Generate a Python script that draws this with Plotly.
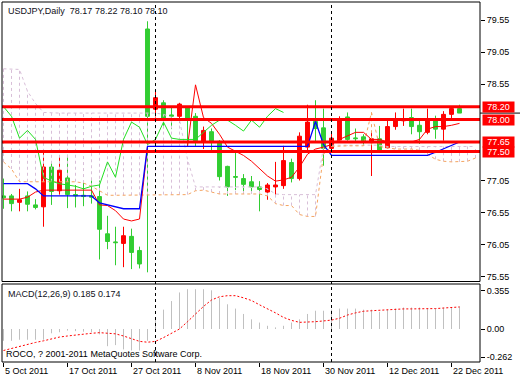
import plotly.graph_objects as go

# ---------------- data ----------------
tick_idx = [0, 8, 16, 24, 32, 40, 48, 56]
tick_labels = ["5 Oct 2011", "17 Oct 2011", "27 Oct 2011", "8 Nov 2011",
               "18 Nov 2011", "30 Nov 2011", "12 Dec 2011", "22 Dec 2011"]
separator_idx = [19, 41]  # 1 Nov, 1 Dec

opens = [76.78, 76.69, 76.75, 76.68, 76.63, 77.26, 76.88, 77.21, 76.83, 76.81,
         76.80, 76.79, 76.29, 76.10, 76.08, 76.19, 75.93, 75.75, 78.05, 78.34,
         78.02, 78.05, 78.24, 78.02, 77.67, 77.83, 77.64, 77.11, 76.95, 77.10,
         76.99, 76.95, 76.91, 76.98, 76.98, 77.36, 77.08, 77.74, 77.96, 77.86,
         77.55, 77.71, 77.99, 77.69, 77.70, 77.65, 77.70, 77.51, 77.89, 77.99,
         78.01, 77.89, 77.81, 78.01, 77.85, 78.08, 78.17, 78.10]
highs = [77.08, 76.84, 76.92, 76.88, 76.76, 77.51, 77.32, 77.44, 77.45, 76.98,
         77.02, 77.05, 77.05, 76.50, 76.33, 76.33, 76.30, 76.02, 79.53, 78.47,
         78.30, 78.18, 78.26, 78.21, 78.10, 77.89, 77.86, 77.68, 77.28, 77.51,
         77.15, 77.12, 77.04, 77.01, 77.34, 77.59, 77.39, 77.80, 78.23, 78.30,
         78.17, 77.82, 78.05, 78.11, 77.86, 77.77, 77.82, 77.90, 78.00, 78.11,
         78.17, 78.17, 77.98, 78.17, 78.06, 78.13, 78.21, 78.23]
lows = [76.61, 76.57, 76.57, 76.57, 76.60, 76.33, 76.67, 76.83, 76.62, 76.63,
        76.65, 76.69, 75.82, 75.98, 75.73, 75.70, 75.67, 75.68, 75.62, 78.03,
        77.88, 77.85, 77.95, 77.58, 77.58, 77.54, 77.51, 77.05, 76.81, 76.90,
        76.86, 76.88, 76.57, 76.75, 76.83, 76.92, 77.02, 77.05, 77.50, 77.65,
        77.28, 77.50, 77.67, 77.67, 77.64, 77.61, 77.12, 77.50, 77.55, 77.84,
        77.90, 77.77, 77.62, 77.77, 77.70, 77.67, 77.98, 78.10]
closes = [76.81, 76.81, 76.71, 76.81, 76.67, 76.64, 77.26, 76.89, 77.09, 76.83,
          76.82, 76.81, 76.80, 76.22, 76.09, 76.07, 76.18, 75.96, 79.41, 78.16,
          78.26, 78.07, 78.05, 78.19, 78.05, 77.66, 77.81, 77.66, 77.27, 77.11,
          77.08, 77.03, 76.95, 76.87, 76.95, 76.97, 77.33, 77.08, 77.57, 77.97,
          77.87, 77.55, 77.68, 78.04, 77.71, 77.73, 77.64, 77.70, 77.56, 77.89,
          77.98, 78.03, 77.91, 77.80, 78.01, 77.85, 78.08, 78.17]

tenkan = [76.76, 76.76, 76.76, 76.79, 76.87, 76.90, 76.90, 76.90, 76.90, 76.90,
          76.90, 76.90, 76.67, 76.66, 76.58, 76.45, 76.42, 76.45, 77.58, 77.58,
          77.58, 77.58, 77.58, 77.58, 78.54, 78.03, 77.94, 77.77, 77.57, 77.51,
          77.44, 77.35, 77.23, 77.12, 77.04, 77.06, 77.10, 77.26, 77.46, 77.54,
          77.57, 77.61, 77.69, 77.74, 77.80, 77.80, 77.69, 77.69, 77.65, 77.65,
          77.65, 77.65, 77.69, 77.85, 77.89, 77.89, 77.91, 77.94]
kijun = [77.00, 77.00, 77.00, 77.00, 76.92, 76.81, 76.81, 76.81, 76.81, 76.81,
         76.81, 76.81, 76.70, 76.67, 76.64, 76.61, 76.61, 76.61, 77.58, 77.58,
         77.58, 77.58, 77.58, 77.58, 77.58, 77.58, 77.58, 77.58, 77.58, 77.58,
         77.58, 77.58, 77.58, 77.58, 77.58, 77.58, 77.58, 77.58, 77.58, 77.97,
         77.61, 77.44, 77.44, 77.44, 77.44, 77.44, 77.44, 77.44, 77.44, 77.44,
         77.44, 77.44, 77.44, 77.44, 77.49, 77.54, 77.60, 77.65]
chikou = [78.20, 78.05, 77.71, 77.83, 77.69, 77.10, 77.04, 77.00, 76.98, 76.96,
          76.92, 76.96, 76.98, 77.34, 77.10, 77.69, 77.96, 77.88, 77.61, 77.69,
          77.96, 77.71, 77.69, 77.69, 77.69, 77.80, 77.91, 77.99, 77.99, 77.91,
          77.82, 77.99, 77.88, 78.05, 78.17, 78.11]
span_a = [77.34, 77.23, 77.03, 77.03, 77.03, 77.03, 77.03, 77.03, 77.03, 77.03,
          77.01, 76.96, 76.89, 76.82, 76.82, 76.82, 76.82, 76.82, 76.83, 76.83,
          76.83, 76.83, 76.83, 76.83, 76.89, 76.90, 76.87, 76.84, 76.84, 76.84,
          76.84, 76.84, 76.84, 76.81, 76.69, 76.66, 76.66, 76.52, 76.49, 76.49,
          77.46, 77.58, 77.59, 77.59, 77.59, 77.59, 78.11, 77.58, 77.56, 77.54,
          77.54, 77.54, 77.52, 77.46, 77.38, 77.35, 77.34, 77.34, 77.35, 77.40]
span_b = [78.79, 78.79, 78.78, 78.44, 78.25, 78.11, 78.10, 78.10, 78.10, 78.10,
          78.10, 78.10, 78.10, 78.10, 78.10, 78.10, 78.10, 78.10, 78.10, 78.10,
          78.08, 78.03, 77.99, 77.38, 76.95, 76.95, 76.95, 76.95, 76.95, 76.95,
          76.95, 76.95, 76.95, 76.92, 76.84, 76.83, 76.83, 76.83, 76.83, 76.83,
          77.57, 77.60, 77.60, 77.60, 77.60, 77.60, 77.60, 77.60, 77.58, 77.58,
          77.58, 77.58, 77.58, 77.58, 77.58, 77.58, 77.58, 77.58, 77.58, 77.58]

macd_hist = [-0.11, -0.11, -0.10, -0.10, -0.10, -0.10, -0.04, -0.03, -0.015, -0.02,
             -0.025, -0.03, -0.05, -0.16, -0.15, -0.19, -0.20, -0.20, -0.11, 0.10,
             0.18, 0.26, 0.34, 0.37, 0.37, 0.37, 0.36, 0.29, 0.23, 0.19,
             0.14, 0.09, 0.06, 0.03, 0.015, 0.03, 0.06, 0.09, 0.14, 0.17,
             0.17, 0.18, 0.19, 0.19, 0.19, 0.18, 0.18, 0.16, 0.18, 0.19,
             0.20, 0.20, 0.20, 0.19, 0.19, 0.20, 0.20, 0.21]
macd_signal = [-0.20, -0.18, -0.16, -0.14, -0.125, -0.11, -0.09, -0.075, -0.065, -0.055,
               -0.046, -0.04, -0.034, -0.036, -0.045, -0.065, -0.09, -0.115, -0.123, -0.115,
               -0.08, -0.04, 0.00, 0.068, 0.14, 0.21, 0.27, 0.30, 0.31, 0.31,
               0.29, 0.265, 0.225, 0.19, 0.15, 0.108, 0.08, 0.062, 0.062, 0.068,
               0.075, 0.083, 0.10, 0.13, 0.15, 0.165, 0.17, 0.175, 0.18, 0.185,
               0.187, 0.187, 0.187, 0.187, 0.19, 0.195, 0.20, 0.205]

hlines = [78.20, 78.00, 77.65, 77.50]
hline_labels = ["78.20", "78.00", "77.65", "77.50"]
bid_price = 78.10
price_ticks = [79.55, 79.05, 78.55, 77.05, 76.55, 76.05, 75.55]
macd_ticks = [0.355, 0.0, -0.262]
macd_tick_labels = ["0.355", "0.00", "-0.262"]

title_text = "USDJPY,Daily&nbsp; 78.17 78.22 78.10 78.10"
macd_text = "MACD(12,26,9) 0.185 0.174"
copyright_text = "ROCO, ? 2001-2011 MetaQuotes Software Corp."

# ---------------- figure ----------------
W, H = 520, 380
FONT = "Liberation Sans"


def fx(p):
    return p / W


def fy(p):
    return 1 - p / H


n = len(closes)
idx = list(range(n))
idx_cloud = list(range(len(span_a)))

fig = go.Figure()

# Ichimoku cloud hatch (vertical dashed lines between span A and span B)
tx, ty, sx, sy = [], [], [], []
for i, (a, b) in enumerate(zip(span_a, span_b)):
    if b >= a:
        tx += [i, i, None]
        ty += [a, b, None]
    else:
        sx += [i, i, None]
        sy += [b, a, None]
fig.add_trace(go.Scatter(x=tx, y=ty, mode="lines", hoverinfo="skip",
                         line=dict(color="#D8BFD8", width=1, dash="3px,3px"),
                         xaxis="x", yaxis="y"))
fig.add_trace(go.Scatter(x=sx, y=sy, mode="lines", hoverinfo="skip",
                         line=dict(color="#F4A460", width=1, dash="3px,3px"),
                         xaxis="x", yaxis="y"))
fig.add_trace(go.Scatter(x=idx_cloud, y=span_b, mode="lines", hoverinfo="skip",
                         line=dict(color="#D8BFD8", width=1, dash="3px,3px"),
                         xaxis="x", yaxis="y"))
fig.add_trace(go.Scatter(x=idx_cloud, y=span_a, mode="lines", hoverinfo="skip",
                         line=dict(color="#F4A460", width=1, dash="3px,3px"),
                         xaxis="x", yaxis="y"))

# candles
fig.add_trace(go.Candlestick(
    x=idx, open=opens, high=highs, low=lows, close=closes,
    increasing=dict(line=dict(color="#32CD32", width=1), fillcolor="#32CD32"),
    decreasing=dict(line=dict(color="#FF0000", width=1), fillcolor="#FF0000"),
    whiskerwidth=0, xaxis="x", yaxis="y", hoverinfo="skip"))

# Ichimoku lines
fig.add_trace(go.Scatter(x=idx, y=tenkan, mode="lines", hoverinfo="skip",
                         line=dict(color="#FF0000", width=1), xaxis="x", yaxis="y"))
fig.add_trace(go.Scatter(x=idx, y=kijun, mode="lines", hoverinfo="skip",
                         line=dict(color="#0000FF", width=1.3), xaxis="x", yaxis="y"))
fig.add_trace(go.Scatter(x=list(range(len(chikou))), y=chikou, mode="lines",
                         hoverinfo="skip", line=dict(color="#22E022", width=1),
                         xaxis="x", yaxis="y"))

# MACD histogram (thin silver bars)
hx, hy = [], []
for i, v in enumerate(macd_hist):
    hx += [i, i, None]
    hy += [0, v, None]
fig.add_trace(go.Scatter(x=hx, y=hy, mode="lines", hoverinfo="skip",
                         line=dict(color="#C0C0C0", width=1), xaxis="x2", yaxis="y2"))
fig.add_trace(go.Scatter(x=idx, y=macd_signal, mode="lines", hoverinfo="skip",
                         line=dict(color="#FF0000", width=1, dash="2px,2px"),
                         xaxis="x2", yaxis="y2"))

# ---------------- layout ----------------
x0 = -1.5 / 8
x1 = x0 + 478 / 8
main_top_px, main_bot_px = 2, 281.5
macd_top_px, macd_bot_px = 284, 362
ppu = 64.2
y_top = 79.55 + (20 - main_top_px) / ppu
y_bot = 79.55 - (main_bot_px - 20) / ppu
m_ppu = 107.5
m_top = (329 - macd_top_px) / m_ppu
m_bot = -(macd_bot_px - 329) / m_ppu

tickfont = dict(family=FONT, size=9, color="black")

shapes = []
# red horizontal levels
for lv in hlines:
    shapes.append(dict(type="line", xref="paper", yref="y", x0=fx(2), x1=fx(480),
                       y0=lv, y1=lv, line=dict(color="#FF0000", width=3), layer="above"))
# bid marker on the scale
shapes.append(dict(type="line", xref="paper", yref="y", x0=fx(480), x1=1,
                   y0=bid_price, y1=bid_price, line=dict(color="black", width=1),
                   layer="above"))
# period separators
for s in separator_idx:
    shapes.append(dict(type="line", xref="x", yref="paper", x0=s, x1=s,
                       y0=fy(macd_bot_px), y1=fy(main_top_px),
                       line=dict(color="black", width=1, dash="3px,3px"), layer="above"))
# panel frames
shapes.append(dict(type="rect", xref="paper", yref="paper", x0=fx(2), x1=fx(480),
                   y0=fy(main_bot_px), y1=fy(main_top_px),
                   line=dict(color="black", width=1), fillcolor="rgba(0,0,0,0)",
                   layer="above"))
shapes.append(dict(type="rect", xref="paper", yref="paper", x0=fx(2), x1=fx(480),
                   y0=fy(macd_bot_px), y1=fy(macd_top_px),
                   line=dict(color="black", width=1), fillcolor="rgba(0,0,0,0)",
                   layer="above"))

annotations = []
annotations.append(dict(text=title_text, xref="paper", yref="paper", x=fx(6), y=fy(11),
                        xanchor="left", yanchor="middle", showarrow=False,
                        font=dict(family=FONT, size=9, color="#101020")))
annotations.append(dict(text=macd_text, xref="paper", yref="paper", x=fx(6), y=fy(294),
                        xanchor="left", yanchor="middle", showarrow=False,
                        font=dict(family=FONT, size=9, color="#101020")))
annotations.append(dict(text=copyright_text, xref="paper", yref="paper", x=fx(4),
                        y=fy(354), xanchor="left", yanchor="middle", showarrow=False,
                        font=dict(family=FONT, size=9, color="black")))
for ti, tl in zip(tick_idx, tick_labels):
    annotations.append(dict(text=tl, xref="x2", yref="paper", x=ti, y=fy(371),
                            xanchor="left", yanchor="middle", showarrow=False,
                            xshift=-1, font=dict(family=FONT, size=9, color="black")))
for lv, lt in zip(hlines, hline_labels):
    annotations.append(dict(text=lt, xref="paper", yref="y", x=fx(482), y=lv,
                            xanchor="left", yanchor="middle", showarrow=False,
                            bgcolor="#FF0000", width=31, height=10, borderpad=0,
                            font=dict(family=FONT, size=9, color="white")))

fig.update_layout(
    width=W, height=H, margin=dict(l=0, r=0, t=0, b=0),
    paper_bgcolor="white", plot_bgcolor="white", showlegend=False,
    hovermode=False, boxgap=0.3,
    xaxis=dict(domain=[fx(2), fx(480)], range=[x0, x1], anchor="y",
               showticklabels=False, ticks="", showgrid=False, zeroline=False,
               showline=False, rangeslider=dict(visible=False), fixedrange=True),
    xaxis2=dict(domain=[fx(2), fx(480)], range=[x0, x1], anchor="y2",
                tickmode="array", tickvals=tick_idx, ticks="outside", ticklen=4,
                tickcolor="black", showticklabels=False, showgrid=False,
                zeroline=False, showline=False, fixedrange=True),
    yaxis=dict(domain=[fy(main_bot_px), fy(main_top_px)], range=[y_bot, y_top],
               anchor="x", side="right", tickmode="array", tickvals=price_ticks,
               ticktext=[f"{v:.2f}" for v in price_ticks], ticks="outside",
               ticklen=4, tickcolor="black", tickfont=tickfont, showgrid=False,
               zeroline=False, showline=False, fixedrange=True),
    yaxis2=dict(domain=[fy(macd_bot_px), fy(macd_top_px)], range=[m_bot, m_top],
                anchor="x2", side="right", tickmode="array", tickvals=macd_ticks,
                ticktext=macd_tick_labels, ticks="outside", ticklen=4,
                tickcolor="black", tickfont=tickfont, showgrid=False,
                zeroline=False, showline=False, fixedrange=True),
    shapes=shapes, annotations=annotations,
)

fig.write_html("out.html")
